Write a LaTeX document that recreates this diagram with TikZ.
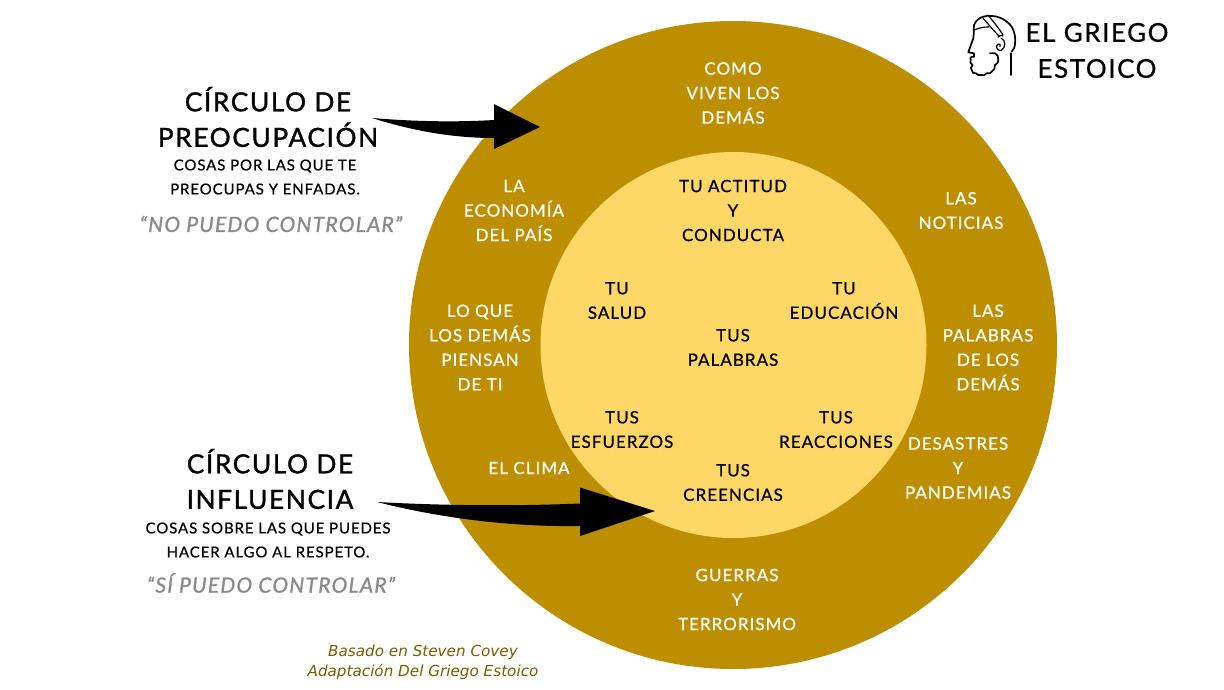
\documentclass[tikz,border=0pt]{standalone}
\usepackage{fontspec}
\setmainfont{Lato}
\newfontfamily\greekish[LetterSpace=6,FakeBold=0.6]{Lato}
\newfontfamily\greekbig[LetterSpace=6,FakeBold=1.2]{Lato}
\newfontfamily\covey{DejaVu Sans}
\definecolor{outerc}{HTML}{BD8E00}
\definecolor{innerc}{HTML}{FFD766}
\definecolor{quotec}{HTML}{8A8A8A}
\definecolor{creditc}{HTML}{7A5C00}
\tikzset{
 lbl/.style={align=center,inner sep=0pt,font=\greekish\fontsize{17}{24.5}\selectfont},
 outerlbl/.style={lbl,text=white},
 innerlbl/.style={lbl,text=black},
 bigt/.style={align=center,inner sep=0pt,font=\greekbig\fontsize{26.3}{35.5}\selectfont,text=black},
 subt/.style={align=center,inner sep=0pt,font=\greekish\fontsize{15}{24}\selectfont,text=black},
 quotet/.style={inner sep=0pt,font=\greekbig\itshape\fontsize{21}{24}\selectfont,text=quotec},
 credit/.style={align=center,inner sep=0pt,font=\covey\itshape\fontsize{15.2}{20}\selectfont,text=creditc},
 arrowshape/.style={fill=black,draw=none},
 logoline/.style={draw=black,line width=1.7pt,line cap=round,line join=round},
}
\begin{document}
\begin{tikzpicture}[x=1pt,y=-1pt]
\useasboundingbox (0,0) rectangle (1224,689);
\fill[white] (0,0) rectangle (1224,689);
\node[circle,fill=outerc,minimum size=648pt,inner sep=0pt] (outer) at (733,345) {};
\node[circle,fill=innerc,minimum size=386pt,inner sep=0pt] (inner) at (733.5,345) {};

\node[outerlbl] (o1) at (733,93) {COMO\\VIVEN LOS\\DEMÁS};
\node[outerlbl] (o2) at (514,210.5) {LA\\ECONOMÍA\\DEL PAÍS};
\node[outerlbl] (o3) at (961,210.5) {LAS\\NOTICIAS};
\node[outerlbl] (o4) at (480,347.5) {LO QUE\\LOS DEMÁS\\PIENSAN\\DE TI};
\node[outerlbl] (o5) at (988,347.5) {LAS\\PALABRAS\\DE LOS\\DEMÁS};
\node[outerlbl] (o6) at (529,468) {EL CLIMA};
\node[outerlbl] (o7) at (958,468) {DESASTRES\\Y\\PANDEMIAS};
\node[outerlbl] (o8) at (737,599.5) {GUERRAS\\Y\\TERRORISMO};

\node[innerlbl] (i1) at (733,210.5) {TU ACTITUD\\Y\\CONDUCTA};
\node[innerlbl] (i2) at (617,300.5) {TU\\SALUD};
\node[innerlbl] (i3) at (844,300.5) {TU\\EDUCACIÓN};
\node[innerlbl] (i4) at (733,347.5) {TUS\\PALABRAS};
\node[innerlbl] (i5) at (622,429.5) {TUS\\ESFUERZOS};
\node[innerlbl] (i6) at (836,429.5) {TUS\\REACCIONES};
\node[innerlbl] (i7) at (733,482.5) {TUS\\CREENCIAS};

\node[bigt] (t1) at (268,117) {CÍRCULO DE\\PREOCUPACIÓN};
\node[subt] (s1) at (265,177) {COSAS POR LAS QUE TE\\PREOCUPAS Y ENFADAS.};
\node[quotet] (q1) at (271,224) {“NO PUEDO CONTROLAR”};
\node[bigt] (t2) at (270,479) {CÍRCULO DE\\INFLUENCIA};
\node[subt] (s2) at (268,540) {COSAS SOBRE LAS QUE PUEDES\\HACER ALGO AL RESPETO.};
\node[quotet] (q2) at (271,583) {“SÍ PUEDO CONTROLAR”};

\node[credit] (c1) at (423,662.5) {Basado en Steven Covey\\Adaptación Del Griego Estoico};

\node[align=center,inner sep=0pt,font=\greekish\fontsize{26}{36}\selectfont] (logo) at (1097,50.5) {EL GRIEGO\\ESTOICO};

% curved block arrows
\path[arrowshape] (372,118) .. controls (420,122) and (460,122) .. (494,120)
  -- (494,104) -- (540,127) -- (494,149) -- (494,138)
  .. controls (450,138) and (410,130) .. (372,118) -- cycle;
\path[arrowshape] (377,502) .. controls (450,506) and (520,506) .. (580,503.5)
  -- (580,487.5) -- (655,511) -- (580,536) -- (580,526)
  .. controls (510,527) and (440,518) .. (377,502) -- cycle;

% logo head
\draw[logoline] (974,25) .. controls (976,20) and (980,17.5) .. (983.3,16.7)
  .. controls (986,15.5) and (989,15.5) .. (991.7,16)
  .. controls (996,16) and (1000,17.5) .. (1003.3,19.3)
  .. controls (1008,22) and (1012,26) .. (1013.3,30)
  .. controls (1015,34) and (1015.5,39) .. (1015,43.3)
  .. controls (1015,47) and (1013.5,50) .. (1011.7,51.7);
\draw[logoline] (974,25) .. controls (973.5,30) and (974,34) .. (973.3,38.3)
  -- (968.3,52.3) -- (974,53.3) -- (974,56.7);
\draw[logoline] (974,56.7) .. controls (970,56.5) and (969.5,58.5) .. (970.7,60)
  .. controls (969.5,62) and (970.5,64) .. (972.7,65)
  .. controls (970.5,66.5) and (970.5,69) .. (971.7,70)
  .. controls (971.5,72.5) and (974,74) .. (976,73.3)
  .. controls (977,75) and (979,75.5) .. (980,75)
  .. controls (983,76) and (985.5,75) .. (986.7,73.3)
  .. controls (989,74) and (991.5,73) .. (991.7,71.7)
  .. controls (994,70.5) and (995.5,67.5) .. (995,65)
  .. controls (997,64) and (999,62) .. (998.3,60)
  .. controls (999,57) and (997,54) .. (995,53.3) -- (990,53.3);
\draw[logoline,line width=1.2pt] (974,30) .. controls (980,27.5) and (984,27) .. (989,27);
\draw[logoline,line width=1.2pt] (983,18) .. controls (988,24) and (994,31) .. (999,36);
\draw[logoline,line width=1.2pt] (989,16.5) .. controls (993,21) and (998,27) .. (1003,35);
\draw[logoline,line width=1.2pt] (998,37) .. controls (1000,35) and (1002,35) .. (1003,36);
\draw[logoline,line width=1.2pt] (1001,38) .. controls (1006,40) and (1006,48) .. (1001,50.5)
  .. controls (997,51) and (995,46) .. (998,44) .. controls (1000,43.5) and (1001,45) .. (1000,46.5);
\draw[logoline] (1010.7,53.3) -- (1010.7,75);
\end{tikzpicture}
\end{document}
